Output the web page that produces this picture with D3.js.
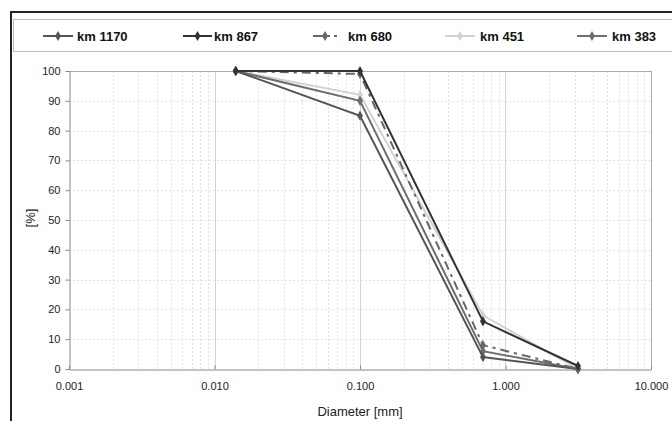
<!DOCTYPE html>
<html><head><meta charset="utf-8">
<script src="https://cdn.jsdelivr.net/npm/d3@7"></script>
<style>body{margin:0;background:#fff;} svg text{font-family:"Liberation Sans",Arial,sans-serif;}</style>
</head><body><svg id="c" width="672" height="421" font-family="Liberation Sans, Arial, sans-serif"></svg>
<script>
const diameters = [0.014, 0.1, 0.7, 3.15];
const seriesNames = ["km 1170", "km 867", "km 680", "km 451", "km 383"];
const km1170 = [100, 85, 4, 0];
const km867 = [100, 100, 16, 1];
const km680 = [100, 99, 8, 0];
const km451 = [100, 92, 18, 0];
const km383 = [100, 90, 6, 0];
const seriesColors = ["#555555", "#333333", "#666666", "#d2d2d2", "#6e6e6e"];
const seriesDash = [null, null, "9,5,3,5", null, null];
const xTicks = [0.001, 0.01, 0.1, 1, 10];
const yTicks = [0,10,20,30,40,50,60,70,80,90,100];

const svg = d3.select("#c");
const m = {l:69, r:651, t:71, b:369};
const x = d3.scaleLog().domain([0.001, 10]).range([m.l, m.r]);
const y = d3.scaleLinear().domain([0, 100]).range([m.b, m.t]);

// outer frame
svg.append("rect").attr("x",11).attr("y",12).attr("width",700).attr("height",500)
  .attr("fill","none").attr("stroke","#222").attr("stroke-width",2);
// legend box
svg.append("rect").attr("x",13.5).attr("y",19.5).attr("width",700).attr("height",32)
  .attr("fill","#fff").attr("stroke","#bbb").attr("stroke-width",1);

// grid: minor verticals
const minor = [];
for (let d=0.001; d<10; d*=10) for (let k=2;k<=9;k++) minor.push(d*k);
svg.append("g").selectAll("line").data(minor).join("line")
  .attr("x1",d=>Math.round(x(d))+0.5).attr("x2",d=>Math.round(x(d))+0.5)
  .attr("y1",m.t).attr("y2",m.b).attr("stroke","#e2e2e2").attr("stroke-dasharray","2,2");
// horizontal grid
svg.append("g").selectAll("line").data(yTicks.filter(v=>v>0&&v<100)).join("line")
  .attr("x1",m.l).attr("x2",m.r).attr("y1",d=>Math.round(y(d))+0.5).attr("y2",d=>Math.round(y(d))+0.5)
  .attr("stroke","#e2e2e2").attr("stroke-dasharray","2,2");
// major verticals
svg.append("g").selectAll("line").data(xTicks.slice(1,4)).join("line")
  .attr("x1",d=>Math.round(x(d))+0.5).attr("x2",d=>Math.round(x(d))+0.5)
  .attr("y1",m.t).attr("y2",m.b).attr("stroke","#d4d4d4");
// plot frame top/right
svg.append("line").attr("x1",m.l).attr("x2",m.r).attr("y1",m.t+0.5).attr("y2",m.t+0.5).attr("stroke","#aaa");
svg.append("line").attr("x1",m.r+0.5).attr("x2",m.r+0.5).attr("y1",m.t).attr("y2",m.b).attr("stroke","#aaa");

// axes
const fmt = d3.format(".3f");
const xAxis = svg.append("g").attr("transform",`translate(0,${m.b+0.5})`)
  .call(d3.axisBottom(x).tickValues(xTicks).tickFormat(fmt).tickSize(4).tickSizeOuter(0));
const yAxis = svg.append("g").attr("transform",`translate(${m.l+0.5},0)`)
  .call(d3.axisLeft(y).tickValues(yTicks).tickSize(4).tickSizeOuter(0));
[xAxis,yAxis].forEach(a=>{
  a.select(".domain").attr("stroke","#888");
  a.selectAll(".tick line").attr("stroke","#888");
  a.selectAll("text").attr("fill","#222").style("font-size","11px");
});
xAxis.selectAll("text").attr("y",0).attr("dy",0).attr("transform","translate(0,20)");
xAxis.selectAll(".tick line").attr("y1",-4).attr("y2",0);
yAxis.selectAll("text").attr("x",-9);

svg.append("text").attr("x",360).attr("y",416).attr("text-anchor","middle")
  .style("font-size","13px").attr("fill","#222").text("Diameter [mm]");
svg.append("text").attr("transform","translate(35,218) rotate(-90)").attr("text-anchor","middle")
  .style("font-size","13px").attr("fill","#222").text("[%]");

const allSeries = [km1170, km867, km680, km451, km383];
const line = d3.line().x((d,i)=>x(diameters[i])).y(d=>y(d));
const drawOrder = [3,4,0,2,1];
const diamond = d3.symbol().type(d3.symbolDiamond).size(30);
drawOrder.forEach(s=>{
  const g = svg.append("g");
  g.append("path").datum(allSeries[s]).attr("d",line).attr("fill","none")
    .attr("stroke",seriesColors[s]).attr("stroke-width",2)
    .attr("stroke-dasharray",seriesDash[s]);
  g.selectAll("path.pt").data(allSeries[s]).join("path").attr("class","pt")
    .attr("d",diamond).attr("transform",(d,i)=>`translate(${x(diameters[i])},${y(d)})`)
    .attr("fill",seriesColors[s]);
});

// legend
const legX1 = [43, 183, 313, 445, 577];
const legX2 = [73, 212, 337, 475, 607];
const legTextX = [77, 214, 348, 480, 612];
seriesNames.forEach((n,i)=>{
  const g = svg.append("g");
  g.append("line").attr("x1",legX1[i]).attr("x2",legX2[i]).attr("y1",36).attr("y2",36)
    .attr("stroke",seriesColors[i]).attr("stroke-width",2).attr("stroke-dasharray",i===2?"17,4,3,4":null);
  g.append("path").attr("d",diamond).attr("transform",`translate(${(legX1[i]+legX2[i])/2},36)`).attr("fill",seriesColors[i]);
  g.append("text").attr("x",legTextX[i]).attr("y",40.5).style("font-size","13px").style("font-weight","bold")
    .attr("fill","#111").text(n);
});
</script></body></html>
